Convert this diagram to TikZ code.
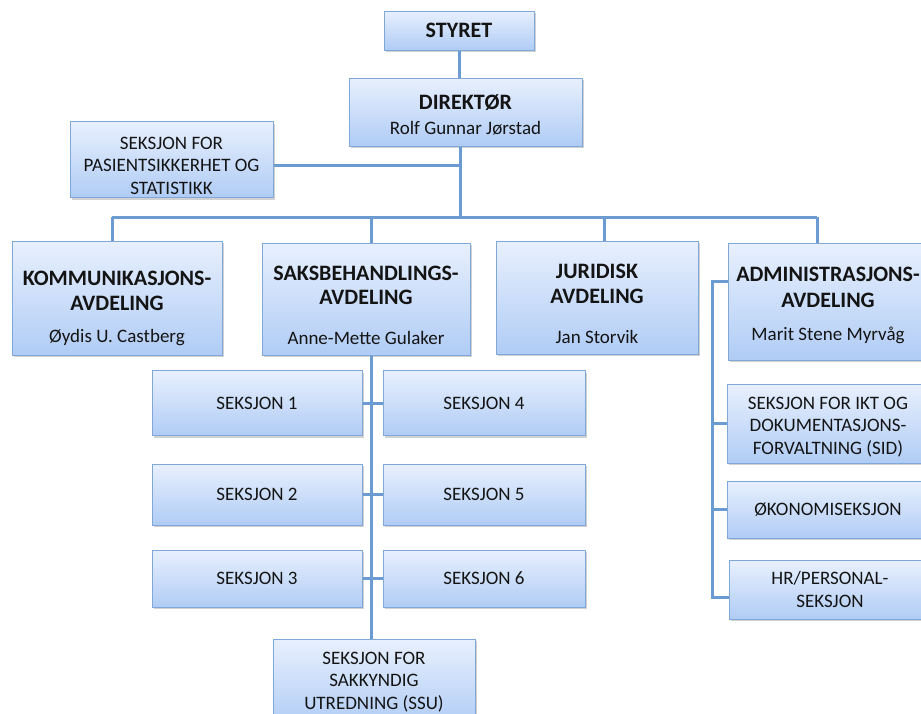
\documentclass[tikz,border=0pt]{standalone}
\usepackage{fontspec}
\setmainfont{Carlito}
\usetikzlibrary{shadows}
\definecolor{boxtop}{HTML}{E8F0FE}
\definecolor{boxbot}{HTML}{B0CCF5}
\definecolor{boxline}{HTML}{7FA7D8}
\definecolor{linkblue}{HTML}{6C9BD2}
\definecolor{ink}{HTML}{141414}
\newcommand{\hd}[1]{{\fontsize{22}{25}\selectfont\bfseries #1}}
\newcommand{\lift}[1]{\rule{0pt}{#1pt}}
\tikzset{
  unit/.style={draw=boxline, line width=1pt, top color=boxtop, bottom color=boxbot,
    text=ink, align=center, inner sep=0pt,
    drop shadow={shadow xshift=1.5pt, shadow yshift=-2pt, opacity=0.3, fill=black!60},
    font=\fontsize{19}{22.5}\selectfont},
  wh/.style 2 args={minimum width=#1pt, minimum height=#2pt},
  link/.style={draw=linkblue, line width=3pt},
}

\begin{document}
\begin{tikzpicture}[x=1pt,y=-1pt]
   \useasboundingbox (0,0) rectangle (921,713);
   \clip (0,0) rectangle (921,713);
   % top of the tree
   \node[unit, wh={150}{39}] (styret) at (459,30.5) {\hd{STYRET}};
   \node[unit, wh={233}{68}] (dir) at (465.5,112) {\lift{21}\hd{DIREKTØR}\\[2pt]Rolf Gunnar Jørstad};
   \node[unit, wh={203}{76}] (pas) at (171.5,159.5)
      {\lift{25}SEKSJON FOR\\PASIENTSIKKERHET OG\\STATISTIKK};
   % avdelinger
   \node[unit, wh={210}{114}] (kom) at (117,298)
      {\lift{35}\hd{KOMMUNIKASJONS-}\\[2.5pt]\hd{AVDELING}\\[10pt]Øydis U. Castberg};
   \node[unit, wh={208}{112}] (saks) at (366,299)
      {\lift{27}\hd{SAKSBEHANDLINGS-}\\[2pt]\hd{AVDELING}\\[17pt]Anne-Mette Gulaker};
   \node[unit, wh={202}{113}] (jur) at (597,297.5)
      {\lift{28}\hd{JURIDISK}\\[2pt]\hd{AVDELING}\\[18pt]Jan Storvik};
   \node[unit, wh={200}{117}] (adm) at (828,301.5)
      {\lift{22}\hd{ADMINISTRASJONS-}\\[4pt]\hd{AVDELING}\\[10pt]Marit Stene Myrvåg};
   % seksjoner under saksbehandling
   \foreach \l/\r/\y/\h in {1/4/403/65, 2/5/494.5/61, 3/6/578.5/57} {
      \node[unit, wh={210}{\h}] (s\l) at (257,\y) {SEKSJON \l};
      \node[unit, wh={202}{\h}] (s\r) at (484,\y) {SEKSJON \r};
   }
   \node[unit, wh={202}{86}] (ssu) at (374,682) {SEKSJON FOR\\SAKKYNDIG\\UTREDNING (SSU)};
   % seksjoner under administrasjon
   \node[unit, wh={202}{79}] (sid) at (828,423.5)
      {\lift{19}SEKSJON FOR IKT OG\\DOKUMENTASJONS-\\FORVALTNING (SID)};
   \node[unit, wh={202}{57}] (okon) at (828,509.5) {ØKONOMISEKSJON};
   \node[unit, wh={202}{59}] (hr) at (830,589.5) {HR/PERSONAL-\\SEKSJON};

   % connectors
   \coordinate (bus) at (460,217);
   \coordinate (pasj) at (460,165);
   \coordinate (b1) at (112,217);
   \coordinate (b2) at (371,217);
   \coordinate (b3) at (604,217);
   \coordinate (b4) at (817,217);
   \coordinate (a0) at (712,281);
   \coordinate (a3) at (712,597);
   \draw[link] (styret.south) -- (styret.south |- dir.north);
   \draw[link] (bus |- dir.south) -- (bus);
   \draw[link] (pasj -| pas.east) -- (pasj);
   \draw[link] (b1) -- (b4);
   \draw[link] (b1) -- (b1 |- kom.north);
   \draw[link] (b2) -- (b2 |- saks.north);
   \draw[link] (b3) -- (b3 |- jur.north);
   \draw[link] (b4) -- (b4 |- adm.north);
   \draw[link] (b2 |- saks.south) -- (b2 |- ssu.north);
   \draw[link] (s1.east) -- (s4.west);
   \draw[link] (s2.east) -- (s5.west);
   \draw[link] (s3.east) -- (s6.west);
   \draw[link] (adm.west |- a0) -- (a0) -- (a3) -- (hr.west |- a3);
   \draw[link] (sid.west) -- (sid.west -| a0);
   \draw[link] (okon.west) -- (okon.west -| a0);
  \end{tikzpicture}
\end{document}
